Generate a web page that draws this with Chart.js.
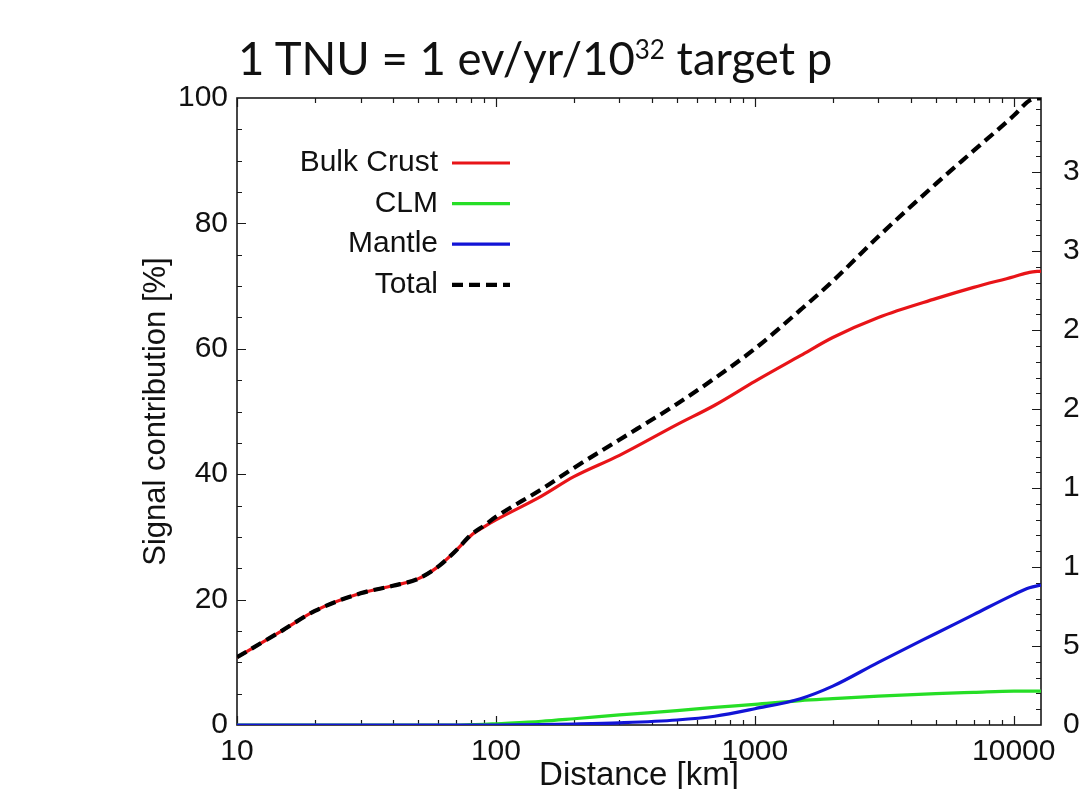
<!DOCTYPE html>
<html>
<head>
<meta charset="utf-8">
<script src="https://cdn.jsdelivr.net/npm/chart.js@4.4.0/dist/chart.umd.min.js"></script>
<style>
  html, body { margin: 0; padding: 0; background: #fff; overflow: hidden; }
  #wrap { position: relative; width: 1079px; height: 789px; overflow: hidden; }
  #chart { position: absolute; left: 0; top: 0; }
  #title {
    position: absolute; left: 238px; top: 35px;
    font-family: Lato, "Open Sans", sans-serif; font-size: 45.5px;
    color: #111; white-space: nowrap; line-height: 1;
  }
  #title sup { font-size: 26px; position: relative; top: -16px; vertical-align: 0; }
</style>
</head>
<body>
<div id="wrap">
  <canvas id="chart" width="1100" height="789"></canvas>
  <div id="title">1 TNU = 1 ev/yr/10<sup>32</sup> target p</div>
</div>
<script>
// distance from detector [km]
const distances = [10, 15, 20, 30, 40, 50, 60, 70, 80, 90, 100, 150, 200, 300, 500, 700, 1000, 1500, 2000, 3000, 5000, 7000, 10000, 11500, 12742];
// cumulative signal contribution [%]
const bulkCrust = [10.8, 15.1, 18.2, 21.0, 22.2, 23.3, 25.3, 27.8, 30.2, 31.6, 32.7, 36.5, 39.6, 43.0, 47.9, 51.0, 54.8, 58.9, 61.8, 65.0, 68.0, 69.8, 71.5, 72.2, 72.4];
const clm = [0, 0, 0, 0, 0, 0, 0, 0, 0.05, 0.1, 0.2, 0.6, 1.0, 1.6, 2.3, 2.8, 3.3, 3.9, 4.2, 4.6, 5.0, 5.2, 5.4, 5.4, 5.4];
const mantle = [0, 0, 0, 0, 0, 0, 0, 0, 0, 0, 0, 0.05, 0.15, 0.35, 0.8, 1.4, 2.6, 4.2, 6.2, 10.0, 14.6, 17.6, 20.8, 21.9, 22.3];
const total = [10.8, 15.1, 18.2, 21.0, 22.2, 23.3, 25.3, 27.8, 30.3, 31.8, 33.2, 37.6, 41.0, 45.5, 51.2, 55.3, 60.0, 66.2, 70.8, 77.9, 86.3, 91.6, 97.2, 99.6, 100];

const xTicks = [10, 100, 1000, 10000];
const leftTicks = [0, 20, 40, 60, 80, 100];
const rightTicks = [0, 5, 10, 15, 20, 25, 30, 35];
const tnuMax = 39.7;

const pts = arr => distances.map((d, i) => ({ x: d, y: arr[i] }));
const FONT = '"Liberation Sans", Arial, Helvetica, sans-serif';

const frame = {
  id: 'frame',
  beforeDatasetsDraw(chart) {
    const { ctx, chartArea: a, scales: { x, y, y1 } } = chart;
    ctx.save();
    ctx.strokeStyle = '#1a1a1a';
    ctx.lineWidth = 1.2;
    ctx.beginPath();
    for (let p = 1; p <= 4; p++) {
      for (let k = 1; k <= 9; k++) {
        const v = k * Math.pow(10, p);
        if (v > x.max) break;
        const px = Math.round(x.getPixelForValue(v)) + 0.5;
        const len = k === 1 ? 9 : 5;
        ctx.moveTo(px, a.bottom); ctx.lineTo(px, a.bottom - len);
        ctx.moveTo(px, a.top); ctx.lineTo(px, a.top + len);
      }
    }
    for (let v = 5; v < 100; v += 5) {
      const py = Math.round(y.getPixelForValue(v)) + 0.5;
      ctx.moveTo(a.left, py); ctx.lineTo(a.left + (v % 20 === 0 ? 9 : 5), py);
    }
    for (let v = 1; v < tnuMax; v += 1) {
      const py = Math.round(y1.getPixelForValue(v)) + 0.5;
      ctx.moveTo(a.right, py); ctx.lineTo(a.right - (v % 5 === 0 ? 9 : 5), py);
    }
    ctx.stroke();
    ctx.lineWidth = 1.6;
    ctx.strokeRect(a.left, a.top, a.right - a.left, a.bottom - a.top);
    ctx.restore();
  },
  afterDraw(chart) {
    const { ctx } = chart;
    ctx.save();
    ctx.font = '30px ' + FONT;
    ctx.textAlign = 'right';
    ctx.textBaseline = 'middle';
    chart.data.datasets.forEach((ds, i) => {
      const yy = 163 + i * 40.6;
      ctx.fillStyle = '#111';
      ctx.fillText(ds.label, 438, yy);
      ctx.strokeStyle = ds.borderColor;
      ctx.lineWidth = ds.borderWidth;
      ctx.setLineDash(ds.borderDash || []);
      ctx.beginPath();
      ctx.moveTo(452, yy); ctx.lineTo(510, yy);
      ctx.stroke();
    });
    ctx.restore();
  }
};

new Chart(document.getElementById('chart'), {
  type: 'line',
  data: {
    datasets: [
      { label: 'Bulk Crust', data: pts(bulkCrust), borderColor: 'rgb(232,20,24)', borderWidth: 3.2, order: 3 },
      { label: 'CLM', data: pts(clm), borderColor: 'rgb(38,222,38)', borderWidth: 3.2, order: 2 },
      { label: 'Mantle', data: pts(mantle), borderColor: 'rgb(18,20,214)', borderWidth: 3.2, order: 1 },
      { label: 'Total', data: pts(total), borderColor: '#000', borderWidth: 4.2, borderDash: [11, 6], order: 0 }
    ]
  },
  options: {
    responsive: false,
    animation: false,
    events: [],
    elements: {
      point: { radius: 0 },
      line: { cubicInterpolationMode: 'monotone', fill: false }
    },
    layout: { padding: { top: 98, left: 0, right: 0, bottom: 0 } },
    plugins: { legend: { display: false }, tooltip: { enabled: false } },
    scales: {
      x: {
        type: 'logarithmic', min: 10, max: 12742,
        afterBuildTicks: s => { s.ticks = xTicks.map(v => ({ value: v })); },
        afterFit: s => { s.height = 64; },
        grid: { display: false, drawTicks: false },
        border: { display: false },
        ticks: { color: '#111', font: { family: FONT, size: 30 }, padding: 9, autoSkip: false, maxRotation: 0, callback: v => String(v) },
        title: { display: true, text: 'Distance [km]', color: '#111', font: { family: FONT, size: 33, lineHeight: 0.78 }, padding: { top: 0, bottom: 0 } }
      },
      y: {
        min: 0, max: 100,
        afterBuildTicks: s => { s.ticks = leftTicks.map(v => ({ value: v })); },
        afterFit: s => { s.width = 237; },
        grid: { display: false, drawTicks: false },
        border: { display: false },
        ticks: { color: '#111', font: { family: FONT, size: 30 }, padding: 9 },
        title: { display: true, text: 'Signal contribution [%]', color: '#111', font: { family: FONT, size: 31, lineHeight: 1 }, padding: { top: 141, bottom: 0 } }
      },
      y1: {
        position: 'right', min: 0, max: tnuMax,
        afterBuildTicks: s => { s.ticks = rightTicks.map(v => ({ value: v })); },
        afterFit: s => { s.width = 59; },
        grid: { display: false, drawTicks: false },
        border: { display: false },
        ticks: { color: '#111', font: { family: FONT, size: 30 }, padding: 22 }
      }
    }
  },
  plugins: [frame]
});
</script>
</body>
</html>
